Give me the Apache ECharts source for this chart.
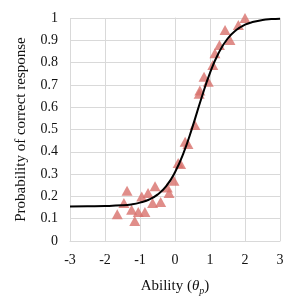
<!DOCTYPE html>
<html>
<head>
<meta charset="utf-8">
<script src="https://cdn.jsdelivr.net/npm/echarts@6/dist/echarts.min.js"></script>
<style>html,body{margin:0;padding:0;background:#fff}#c{width:302px;height:302px}</style>
</head>
<body>
<div id="c"></div>
<script>
// observed responses (ability, probability)
const obsX = [-1.65,-1.46,-1.37,-1.24,-1.15,-1.05,-0.95,-0.86,-0.77,-0.64,-0.57,-0.41,-0.22,-0.17,-0.03,0.09,0.16,0.29,0.37,0.57,0.69,0.71,0.83,0.95,1.08,1.14,1.27,1.43,1.57,1.81,2.0];
const obsY = [0.12,0.17,0.225,0.14,0.09,0.13,0.20,0.13,0.215,0.17,0.245,0.175,0.24,0.215,0.27,0.35,0.345,0.445,0.435,0.52,0.66,0.675,0.737,0.714,0.789,0.842,0.879,0.946,0.901,0.969,1.0];
// item characteristic curve
const curveX = [-3,-2.5,-2,-1.5,-1.25,-1,-0.75,-0.5,-0.25,0,0.25,0.5,0.75,1,1.25,1.5,1.75,2,2.25,2.5,2.75,3];
const curveY = [0.155,0.156,0.157,0.160,0.164,0.172,0.185,0.208,0.246,0.308,0.397,0.512,0.638,0.754,0.844,0.907,0.946,0.970,0.983,0.991,0.995,0.997];
const xTicks = [-3,-2,-1,0,1,2,3];

const chart = echarts.init(document.getElementById('c'), null, {renderer:'canvas'});
const font = 'Liberation Serif';
chart.setOption({
  animation:false,
  grid:{left:70,right:22,top:18,bottom:61},
  xAxis:{
    type:'value',min:xTicks[0],max:xTicks[xTicks.length-1],interval:1,
    name:'{n|Ability (}{i|θ}{s|p}{n|)}',
    nameLocation:'middle',nameGap:35,
    nameTextStyle:{rich:{
      n:{fontFamily:font,fontSize:15,color:'#111',lineHeight:20,verticalAlign:'middle'},
      i:{fontFamily:font,fontSize:15,fontStyle:'italic',color:'#111',lineHeight:20,verticalAlign:'middle'},
      s:{fontFamily:font,fontSize:10,fontStyle:'italic',color:'#111',lineHeight:20,verticalAlign:'bottom',padding:[8,0,0,0]}
    }},
    axisLine:{show:true,onZero:false,lineStyle:{color:'#d9d9d9',width:1}},
    axisTick:{show:false},
    axisLabel:{fontFamily:font,fontSize:14,color:'#111',margin:12},
    splitLine:{show:true,lineStyle:{color:'#d9d9d9',width:1}}
  },
  yAxis:{
    type:'value',min:0,max:1,interval:0.1,
    name:'Probability of correct response',
    nameLocation:'middle',nameGap:41,nameRotate:90,
    nameTextStyle:{fontFamily:font,fontSize:15,color:'#111'},
    axisLine:{show:true,lineStyle:{color:'#d9d9d9',width:1}},
    axisTick:{show:false},
    axisLabel:{fontFamily:font,fontSize:14,color:'#111',margin:12,
      formatter:v=>String(parseFloat(v.toFixed(1)))},
    splitLine:{show:true,lineStyle:{color:'#d9d9d9',width:1}}
  },
  series:[
    {type:'scatter',data:obsX.map((x,i)=>[x,obsY[i]]),symbol:'triangle',symbolSize:[11,10],
     itemStyle:{color:'#D8706C'},z:2},
    {type:'line',data:curveX.map((x,i)=>[x,curveY[i]]),smooth:true,showSymbol:false,
     lineStyle:{color:'#000',width:2},z:3}
  ]
});
</script>
</body>
</html>
